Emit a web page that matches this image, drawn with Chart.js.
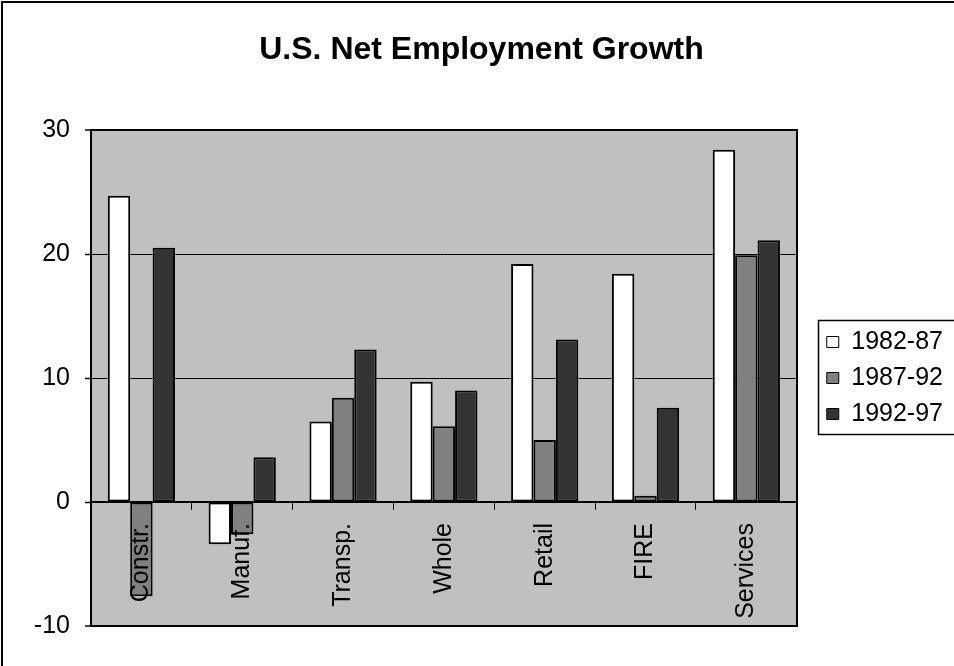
<!DOCTYPE html>
<html>
<head>
<meta charset="utf-8">
<title>U.S. Net Employment Growth</title>
<script src="https://cdn.jsdelivr.net/npm/chart.js@4/dist/chart.umd.min.js"></script>
<style>
  html, body { margin: 0; padding: 0; background: #fff; }
  #wrap { position: relative; width: 954px; height: 666px; }
  canvas { display: block; }
</style>
</head>
<body>
<div id="wrap"><canvas id="chart" width="954" height="666"></canvas></div>
<script>
// Net employment growth (%) by sector, three five-year periods
const categories = ['Constr.', 'Manuf.', 'Transp.', 'Whole', 'Retail', 'FIRE', 'Services'];
const seriesNames = ['1982-87', '1987-92', '1992-97'];
const growth8287 = [24.7, -3.4, 6.5, 9.7, 19.2, 18.4, 28.4];
const growth8792 = [-7.6, -2.6, 8.4, 6.1, 5.0, 0.5, 19.9];
const growth9297 = [20.5, 3.6, 12.3, 9.0, 13.1, 7.6, 21.1];
const yTickValues = [-10, 0, 10, 20, 30];

const FONT = '"Liberation Sans", Arial, Helvetica, sans-serif';
const seriesFill = ['#FFFFFF', '#808080', '#333333'];

// Grey plot background and the outer chart frame
const plotBackground = {
  id: 'plotBackground',
  beforeDraw(chart) {
    const { ctx, chartArea: a } = chart;
    ctx.save();
    ctx.fillStyle = '#C0C0C0';
    ctx.fillRect(a.left, a.top, a.right - a.left, a.bottom - a.top);
    ctx.strokeStyle = '#000';
    ctx.lineWidth = 2;
    ctx.strokeRect(2, 2, chart.width + 20, chart.height + 20);
    ctx.restore();
  }
};

// Box around the legend entries
const legendFrame = {
  id: 'legendFrame',
  afterDraw(chart) {
    const hb = chart.legend && chart.legend.legendHitBoxes;
    if (!hb || !hb.length) return;
    const first = hb[0], last = hb[hb.length - 1];
    const left = Math.round(first.left - 9) + 0.5;
    const top = Math.round(first.top - 9.5) + 0.5;
    const bottom = Math.round(last.top + last.height + 7.5) + 0.5;
    const ctx = chart.ctx;
    ctx.save();
    ctx.strokeStyle = '#000';
    ctx.lineWidth = 1.5;
    ctx.strokeRect(left, top, chart.width + 20 - left, bottom - top);
    ctx.restore();
  }
};

const datasets = [growth8287, growth8792, growth9297].map((values, i) => ({
  label: seriesNames[i],
  data: values,
  backgroundColor: seriesFill[i],
  borderColor: '#000',
  borderWidth: 2,
  borderSkipped: false,
  categoryPercentage: 2 / 3,
  barPercentage: 1
}));

new Chart(document.getElementById('chart'), {
  type: 'bar',
  data: { labels: categories, datasets },
  plugins: [plotBackground, legendFrame],
  options: {
    responsive: false,
    animation: false,
    events: [],
    layout: { padding: { left: 10, right: 1, top: 0, bottom: 40 } },
    plugins: {
      title: {
        display: true,
        text: 'U.S. Net Employment Growth',
        color: '#000',
        font: { family: FONT, size: 32, weight: 'bold', lineHeight: 1.2 },
        padding: { top: 31, bottom: 60.6 }
      },
      legend: {
        display: true,
        position: 'right',
        fullSize: false,
        align: 'center',
        labels: {
          color: '#000',
          font: { family: FONT, size: 25 },
          boxWidth: 12,
          boxHeight: 11,
          padding: 11,
          generateLabels: (chart) => chart.data.datasets.map((ds, i) => ({
            text: ds.label,
            fillStyle: ds.backgroundColor,
            strokeStyle: '#000',
            lineWidth: 1,
            hidden: false,
            datasetIndex: i,
            fontColor: '#000'
          }))
        }
      },
      tooltip: { enabled: false }
    },
    scales: {
      x: {
        position: { y: 0 },
        offset: true,
        grid: { drawOnChartArea: false, drawTicks: true, tickLength: 7, color: '#000', lineWidth: 1, offset: true },
        border: { display: true, color: '#000', width: 2 },
        ticks: {
          color: '#000',
          font: { family: FONT, size: 25 },
          minRotation: 90,
          maxRotation: 90,
          autoSkip: false,
          padding: 14,
          z: 1
        },
        afterFit: (s) => { s.height = 0; }
      },
      y: {
        position: 'left',
        min: -10,
        max: 30,
        afterBuildTicks: (s) => { s.ticks = yTickValues.map(v => ({ value: v })); },
        ticks: { color: '#000', font: { family: FONT, size: 25 }, padding: 15 },
        grid: {
          color: '#000',
          lineWidth: (c) => (c.tick && (c.tick.value === -10 || c.tick.value === 30)) ? 2 : 1,
          tickLength: 6,
          tickWidth: 1.5
        },
        border: { display: true, color: '#000', width: 2 },
        afterFit: (s) => { s.width = 81; }
      },
      gap: {
        axis: 'y',
        type: 'linear',
        position: 'right',
        min: -10,
        max: 30,
        display: true,
        grid: { display: false, drawTicks: false },
        ticks: { display: false },
        border: { display: true, color: '#000', width: 2 },
        afterFit: (s) => { s.width = 19; }
      }
    }
  }
});
</script>
</body>
</html>
